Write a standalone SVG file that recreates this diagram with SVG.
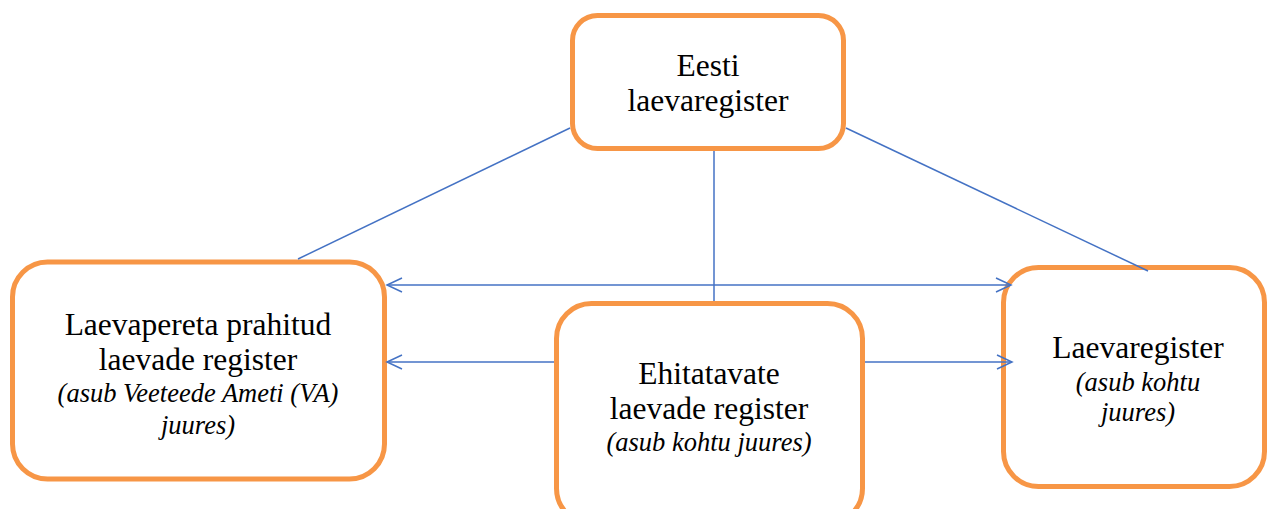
<svg xmlns="http://www.w3.org/2000/svg" width="1268" height="509" viewBox="0 0 1268 509">
<style>
.box{fill:#fff;stroke:#F79646;stroke-width:5}
.t{font-family:"Liberation Serif","Times New Roman",serif;font-size:31.5px;fill:#000;text-anchor:middle}
.i{font-family:"Liberation Serif","Times New Roman",serif;font-size:26.5px;font-style:italic;fill:#000;text-anchor:middle}
.c{stroke:#4472C4;stroke-width:1.5;fill:none}
</style>
<defs>
<marker id="ah" markerWidth="20" markerHeight="20" refX="16" refY="8" orient="auto-start-reverse" markerUnits="userSpaceOnUse">
<path d="M1,1 L16,8 L1,15" fill="none" stroke="#4472C4" stroke-width="1.5"/>
</marker>
</defs>
<rect width="1268" height="509" fill="#fff"/>
<g id="eesti">
<rect class="box" x="572.5" y="15.5" width="271" height="133" rx="25"/>
<text class="t" x="708" y="76">Eesti</text>
<text class="t" x="708" y="111">laevaregister</text>
</g>
<g id="laevapereta">
<rect class="box" x="12.5" y="262" width="372" height="217" rx="35"/>
<text class="t" x="198" y="335">Laevapereta prahitud</text>
<text class="t" x="198" y="370">laevade register</text>
<text class="i" x="198" y="402">(asub Veeteede Ameti (VA)</text>
<text class="i" x="198" y="434">juures)</text>
</g>
<g id="ehitatavate">
<rect class="box" x="556.5" y="303.5" width="306" height="220" rx="35"/>
<text class="t" x="709" y="384">Ehitatavate</text>
<text class="t" x="709" y="419">laevade register</text>
<text class="i" x="709" y="451">(asub kohtu juures)</text>
</g>
<g id="laevaregister">
<rect class="box" x="1003.5" y="267.5" width="261" height="219" rx="35"/>
<text class="t" x="1138" y="358">Laevaregister</text>
<text class="i" x="1138" y="391">(asub kohtu</text>
<text class="i" x="1138" y="421">juures)</text>
</g>
<g id="connectors">
<line class="c" x1="570" y1="128" x2="298" y2="259"/>
<line class="c" x1="846" y1="128" x2="1148" y2="271"/>
<line class="c" x1="714" y1="151" x2="714" y2="301"/>
<line class="c" x1="387" y1="285" x2="1011" y2="285" marker-start="url(#ah)" marker-end="url(#ah)"/>
<line class="c" x1="554" y1="362" x2="387" y2="362" marker-end="url(#ah)"/>
<line class="c" x1="865" y1="362" x2="1012" y2="362" marker-end="url(#ah)"/>
</g>
</svg>
